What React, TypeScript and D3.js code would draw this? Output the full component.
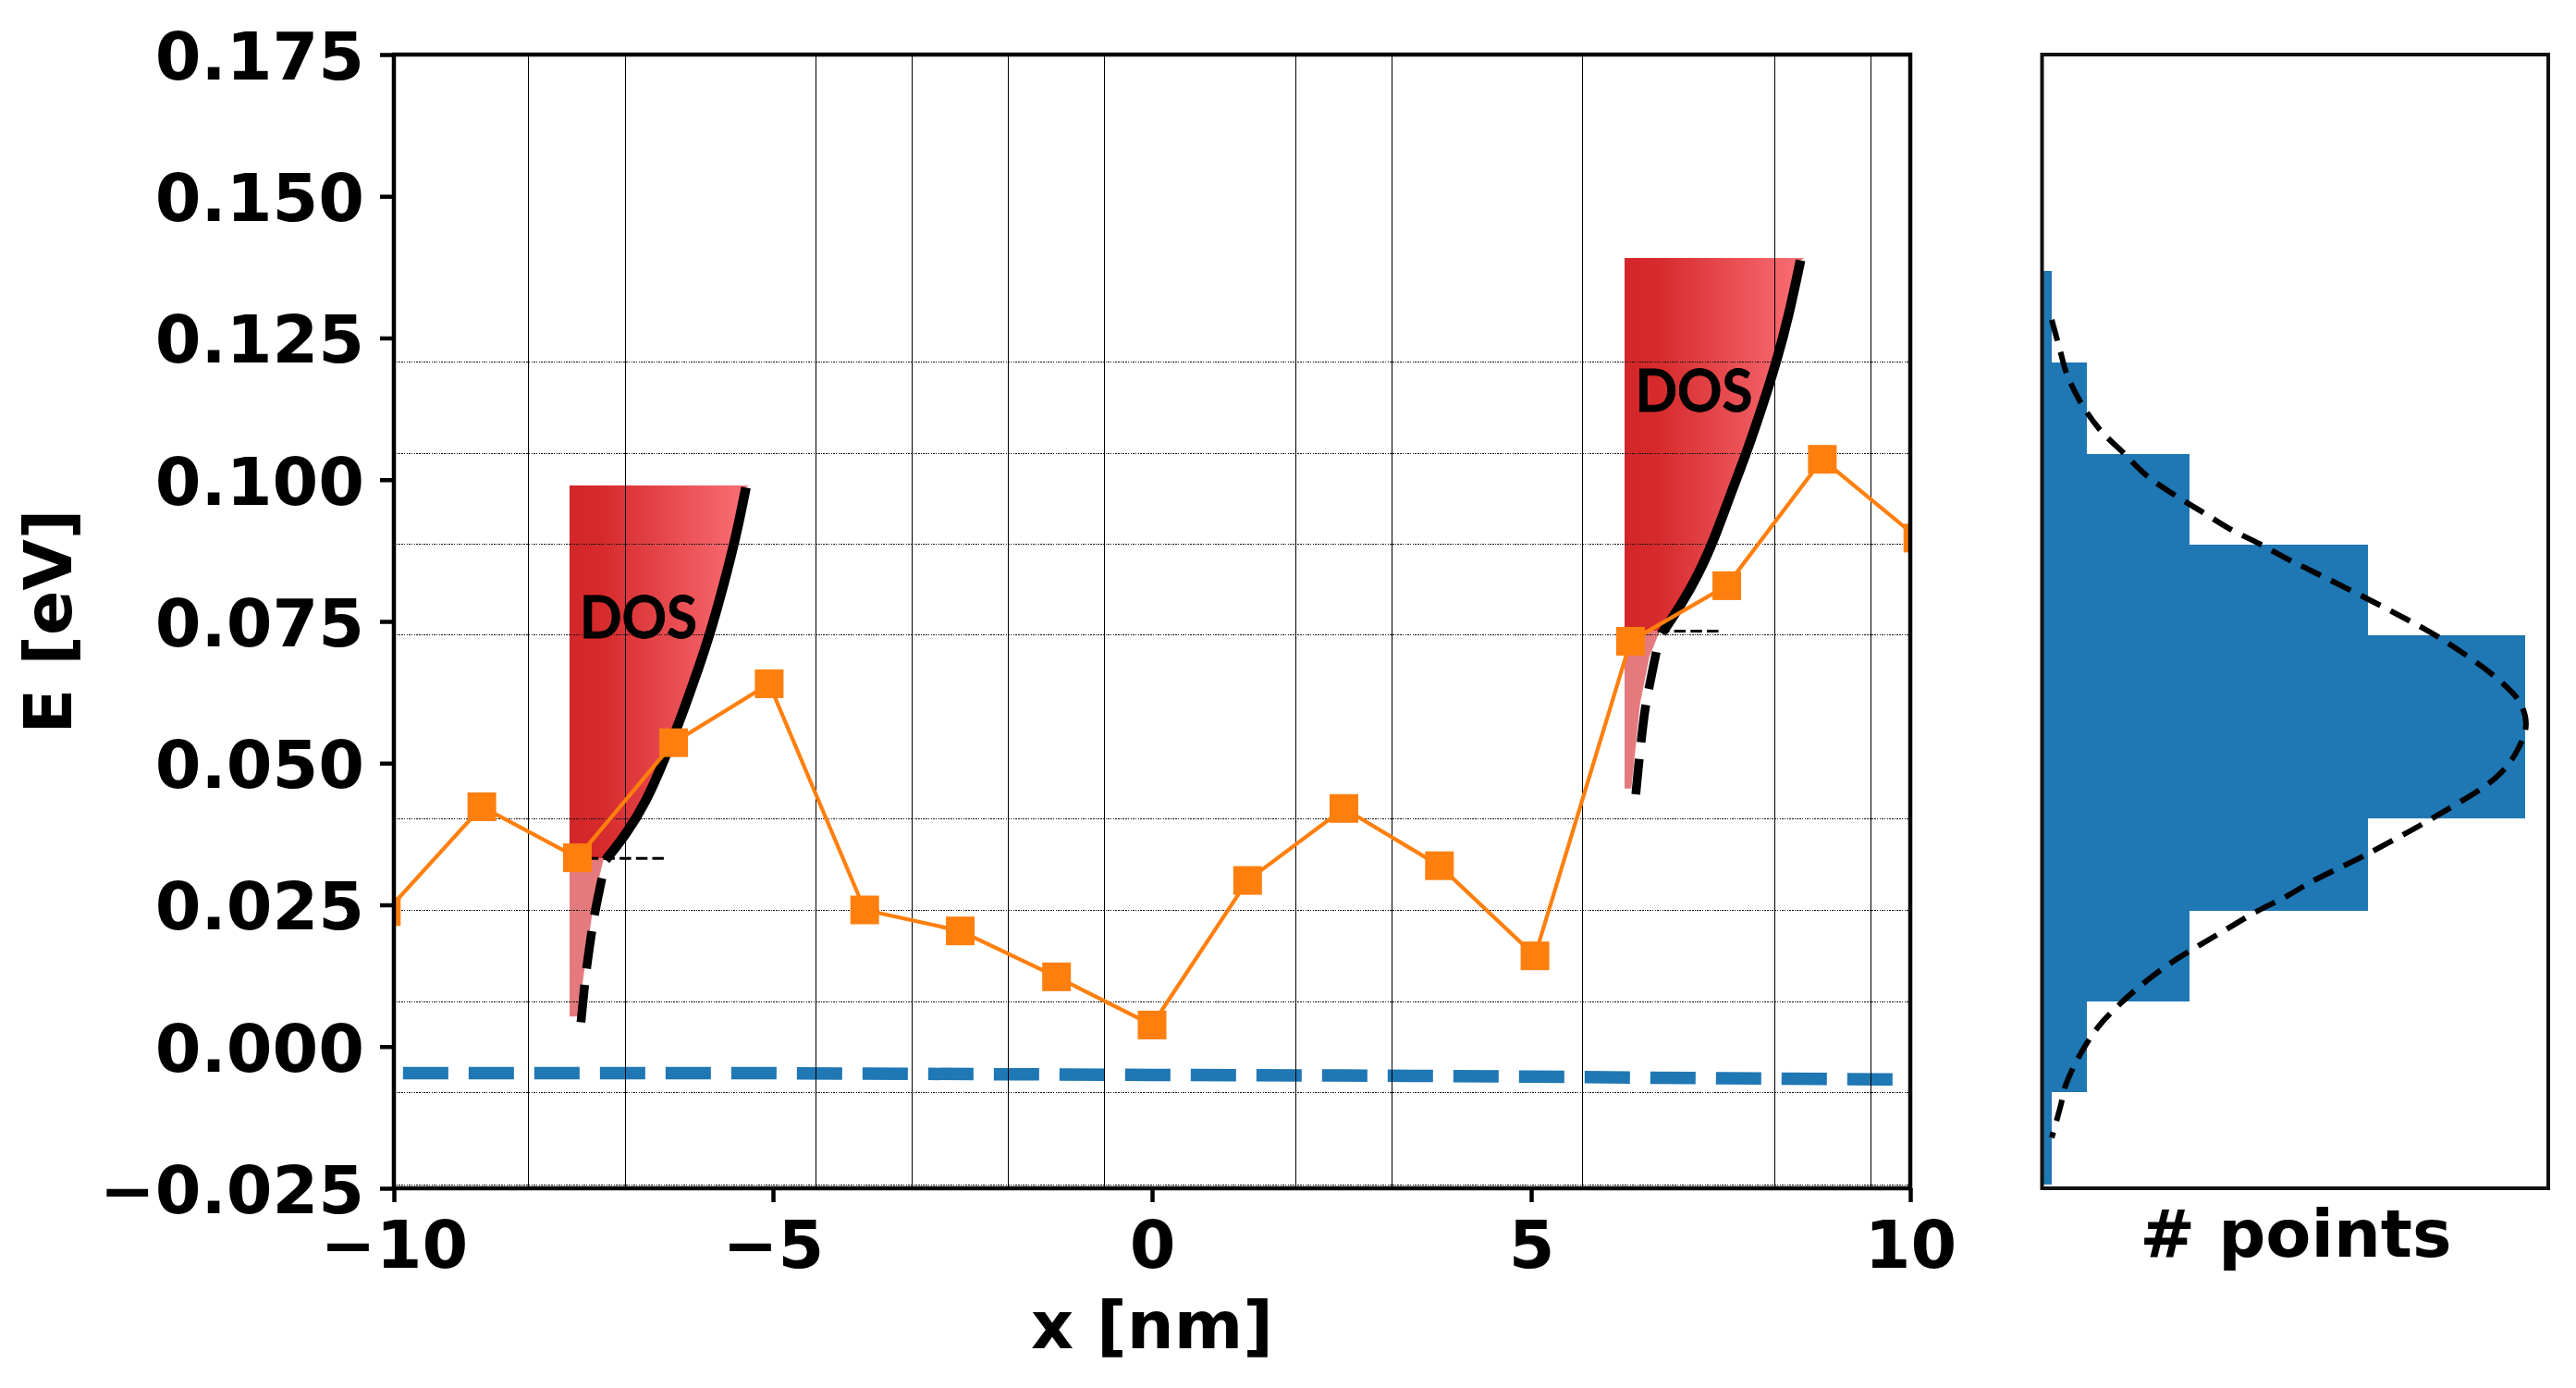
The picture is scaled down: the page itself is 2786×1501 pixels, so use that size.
import React, { useEffect, useRef } from "react";
import * as d3 from "d3";

// x [nm] / E [eV]
const orangeX = [-10.1, -8.84, -7.58, -6.31, -5.05, -3.79, -2.53, -1.26, 0, 1.26, 2.53, 3.79, 5.05, 6.31, 7.58, 8.84, 10.1];
const orangeE = [0.0238, 0.0423, 0.0333, 0.0536, 0.064, 0.0241, 0.0204, 0.0123, 0.0038, 0.0293, 0.042, 0.0319, 0.016, 0.0715, 0.0813, 0.1036, 0.0897];

const blueX = [-9.88, -5, 0, 2.5, 5, 7.5, 9.77];
const blueE = [-0.0047, -0.0047, -0.005, -0.0051, -0.0053, -0.0056, -0.0058];

const gridX = [-8.22, -6.95, -4.43, -3.16, -1.9, -0.63, 1.9, 3.16, 5.68, 8.21, 9.48];
const binEdges = [-0.02435, -0.00808, 0.00795, 0.024, 0.0402, 0.0564, 0.0726, 0.0886, 0.1046, 0.1207, 0.1368];
const binCounts = [1, 4.62, 15.16, 33.5, 49.7, 49.7, 33.5, 15.16, 4.62, 1];

const fitE = [0.1282, 0.1226, 0.1188, 0.1137, 0.1089, 0.1047, 0.1007, 0.0973, 0.0943, 0.0913, 0.0887, 0.0859, 0.0839, 0.0772, 0.0717, 0.0644, 0.0605, 0.0566, 0.0519, 0.0475, 0.041, 0.0339, 0.0291, 0.0265, 0.0238, 0.0209, 0.018, 0.015, 0.0114, 0.0076, 0.0033, -0.0015, -0.0045, -0.0072, -0.0106, -0.0161];
const fitCount = [1, 1.89, 2.52, 3.95, 5.92, 8.4, 10.78, 13.64, 16.5, 19.35, 22.36, 25.38, 27.76, 35.5, 41.3, 47.2, 49.25, 49.8, 48.8, 46.75, 40.9, 33.4, 27.76, 25.16, 22.05, 19.19, 16.33, 13.48, 10.62, 8.08, 5.7, 3.89, 3, 2.36, 1.89, 1];

const yTicks = [-0.025, 0, 0.025, 0.05, 0.075, 0.1, 0.125, 0.15, 0.175];
const xTicks = [-10, -5, 0, 5, 10];

// DOS curves, [x, E]
const leftSolid: [number, number][] = [[-5.357, 0.0986], [-5.479, 0.0905], [-5.642, 0.0818], [-5.845, 0.0721], [-6.043, 0.0644], [-6.244, 0.0569], [-6.439, 0.0504], [-6.671, 0.0432], [-6.943, 0.0373], [-7.207, 0.0329]];
const leftDashed: [number, number][] = [[-7.256, 0.0297], [-7.357, 0.0232], [-7.39, 0.0204], [-7.46, 0.0138], [-7.484, 0.0109], [-7.533, 0.0042]];
const leftFill: [number, number][] = [[-7.683, 0.099], [-5.32, 0.099], ...leftSolid, [-7.232, 0.0332], [-7.683, 0.0332]];
const leftPale: [number, number][] = [[-7.683, 0.0332], [-7.232, 0.0332], [-7.354, 0.0264], [-7.415, 0.0205], [-7.49, 0.0133], [-7.573, 0.0053], [-7.683, 0.0053]];
const leftRef: [number, number][] = [[-7.455, 0.0332], [-6.44, 0.0332]];

const rightSolid: [number, number][] = [[8.552, 0.1387], [8.402, 0.1292], [8.24, 0.121], [8.061, 0.1134], [7.854, 0.1052], [7.634, 0.0976], [7.415, 0.0895], [7.204, 0.0832], [6.96, 0.0775], [6.723, 0.0729]];
const rightDashed: [number, number][] = [[6.65, 0.0696], [6.56, 0.0637], [6.5, 0.0597], [6.45, 0.0538], [6.41, 0.0488], [6.38, 0.0445]];
const rightFill: [number, number][] = [[6.232, 0.1391], [8.606, 0.1391], ...rightSolid, [6.695, 0.0733], [6.232, 0.0733]];
const rightPale: [number, number][] = [[6.232, 0.0733], [6.695, 0.0733], [6.56, 0.0688], [6.436, 0.0605], [6.36, 0.0505], [6.32, 0.0455], [6.232, 0.0455]];
const rightRef: [number, number][] = [[6.67, 0.0733], [7.476, 0.0733]];

// DOS text anchors, [x, E]
const dosLabels: [number, number][] = [[-7.549, 0.072], [6.372, 0.112]];

const fontBold = "'DejaVu Sans'";
const labelSize = 71.5;

const App: React.FC = () => {
  const svgRef = useRef<SVGSVGElement | null>(null);

  useEffect(() => {
    if (!svgRef.current) return;
    const svg = d3.select(svgRef.current);
    svg.selectAll("*").remove();

    const x = d3.scaleLinear().domain([-10, 10]).range([426, 2066]);
    const y = d3.scaleLinear().domain([-0.025, 0.175]).range([1285, 59]);
    const xCount = d3.scaleLinear().domain([0, 52.1]).range([2208.5, 2756]);

    const defs = svg.append("defs");
    defs.append("clipPath").attr("id", "main-clip").append("rect")
      .attr("x", 426).attr("y", 59).attr("width", 1640).attr("height", 1226);

    const grad = defs.append("linearGradient").attr("id", "dos-grad");
    grad.append("stop").attr("offset", "0%").attr("stop-color", "#d32628");
    grad.append("stop").attr("offset", "18%").attr("stop-color", "#d62a2c");
    grad.append("stop").attr("offset", "100%").attr("stop-color", "#fa7076");

    const main = svg.append("g").attr("clip-path", "url(#main-clip)");

    const line = d3.line<[number, number]>().x((d) => x(d[0])).y((d) => y(d[1]));
    const smooth = d3.line<[number, number]>().x((d) => x(d[0])).y((d) => y(d[1])).curve(d3.curveBasis);

    // blue dashed line
    main.append("path")
      .attr("d", d3.line<number>().x((d) => x(d)).y((_, i) => y(blueE[i]))(blueX))
      .attr("fill", "none").attr("stroke", "#1f77b4").attr("stroke-width", 13.5).attr("stroke-dasharray", "49 22");

    // DOS wedges
    const wedges = [
      { fill: leftFill, pale: leftPale, solid: leftSolid, dashed: leftDashed, ref: leftRef },
      { fill: rightFill, pale: rightPale, solid: rightSolid, dashed: rightDashed, ref: rightRef },
    ];
    wedges.forEach((w) => {
      main.append("path").attr("d", line(w.pale) + "Z").attr("fill", "#e47a7d");
      main.append("path").attr("d", line(w.fill) + "Z").attr("fill", "url(#dos-grad)");
      main.append("path").attr("d", smooth(w.solid)).attr("fill", "none").attr("stroke", "#000").attr("stroke-width", 10.5);
      main.append("path").attr("d", smooth(w.dashed)).attr("fill", "none").attr("stroke", "#000").attr("stroke-width", 9.5).attr("stroke-dasharray", "40.5 18");
      main.append("path").attr("d", line(w.ref)).attr("fill", "none").attr("stroke", "#000").attr("stroke-width", 3).attr("stroke-dasharray", "12.5 5.2");
    });

    dosLabels.forEach(([dx, de]) => {
      main.append("text").attr("x", x(dx)).attr("y", y(de)).attr("font-family", "Lato").attr("font-weight", 700)
        .attr("font-size", 64).attr("textLength", 127).attr("lengthAdjust", "spacingAndGlyphs")
        .attr("stroke", "#000").attr("stroke-width", 0.8).attr("fill", "#000").text("DOS");
    });

    // bin lines + vertical lines, they sit over the wedges
    binEdges.slice(0, -1).filter((_, i) => i !== 5).forEach((e) => {
      main.append("line").attr("x1", 426).attr("x2", 2066).attr("y1", y(e)).attr("y2", y(e))
        .attr("stroke", "#111").attr("stroke-width", 1).attr("stroke-dasharray", "1.5 1.2").attr("shape-rendering", "crispEdges");
    });
    gridX.forEach((g) => {
      main.append("line").attr("x1", x(g)).attr("x2", x(g)).attr("y1", 59).attr("y2", 1285)
        .attr("stroke", "#000").attr("stroke-width", 1).attr("shape-rendering", "crispEdges");
    });

    // orange series
    main.append("path")
      .attr("d", d3.line<number>().x((d) => x(d)).y((_, i) => y(orangeE[i]))(orangeX))
      .attr("fill", "none").attr("stroke", "#ff7f0e").attr("stroke-width", 4.2);
    main.selectAll("rect.pt").data(orangeX).join("rect").attr("class", "pt")
      .attr("x", (d) => x(d) - 15.5).attr("y", (_, i) => y(orangeE[i]) - 15.5)
      .attr("width", 31).attr("height", 31).attr("fill", "#ff7f0e");

    // frame and axes
    svg.append("rect").attr("x", 426).attr("y", 59).attr("width", 1640).attr("height", 1226)
      .attr("fill", "none").attr("stroke", "#000").attr("stroke-width", 4.5);

    const yAxis = svg.append("g").attr("transform", "translate(426,0)")
      .call(d3.axisLeft(y).tickValues(yTicks).tickFormat(d3.format(".3f") as any).tickSize(15).tickPadding(17));
    const xAxis = svg.append("g").attr("transform", "translate(0,1285)")
      .call(d3.axisBottom(x).tickValues(xTicks).tickFormat(d3.format("d") as any).tickSize(15).tickPadding(20));
    [yAxis, xAxis].forEach((a) => {
      a.select(".domain").remove();
      a.selectAll("line").attr("stroke", "#000").attr("stroke-width", 4.5);
      a.selectAll("text").attr("font-family", fontBold).attr("font-weight", 700).attr("font-size", labelSize).attr("fill", "#000");
    });
    yAxis.selectAll("text").attr("dy", "0.37em");

    svg.append("text").attr("x", 1246).attr("y", 1458).attr("text-anchor", "middle")
      .attr("font-family", fontBold).attr("font-weight", 700).attr("font-size", labelSize).text("x [nm]");
    svg.append("text").attr("transform", "translate(77,672) rotate(-90)").attr("text-anchor", "middle")
      .attr("font-family", fontBold).attr("font-weight", 700).attr("font-size", labelSize).text("E [eV]");

    // histogram panel
    binCounts.forEach((c, i) => {
      svg.append("rect").attr("x", xCount(0)).attr("y", y(binEdges[i + 1]))
        .attr("width", xCount(c) - xCount(0)).attr("height", y(binEdges[i]) - y(binEdges[i + 1]))
        .attr("fill", "#1f77b4").attr("shape-rendering", "crispEdges");
    });
    svg.append("path")
      .attr("d", d3.line<number>().x((d) => xCount(d)).y((_, i) => y(fitE[i])).curve(d3.curveCatmullRom)(fitCount))
      .attr("fill", "none").attr("stroke", "#000").attr("stroke-width", 6).attr("stroke-dasharray", "23.5 12.5");
    svg.append("rect").attr("x", 2208.5).attr("y", 59).attr("width", 547.5).attr("height", 1226)
      .attr("fill", "none").attr("stroke", "#111").attr("stroke-width", 4);
    svg.append("text").attr("x", 2483).attr("y", 1359).attr("text-anchor", "middle")
      .attr("font-family", fontBold).attr("font-weight", 700).attr("font-size", labelSize).text("# points");
  }, []);

  return (
    <svg
      ref={svgRef}
      width={2786}
      height={1501}
      viewBox="0 0 2786 1501"
      style={{ position: "absolute", left: 0, top: 0, display: "block", background: "#fff" }}
    />
  );
};

export default App;
